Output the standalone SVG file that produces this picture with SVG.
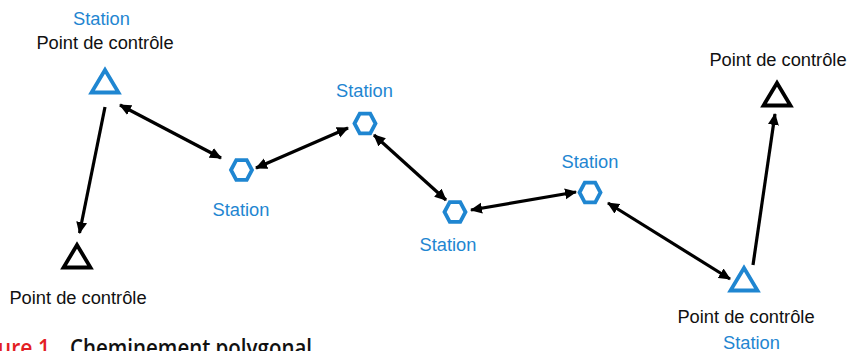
<svg xmlns="http://www.w3.org/2000/svg" width="851" height="351" viewBox="0 0 851 351">
  <defs>
    <marker id="head" viewBox="0 0 12 12" refX="11" refY="6" markerWidth="12" markerHeight="12" markerUnits="userSpaceOnUse" orient="auto-start-reverse">
      <path d="M0,0.5 L12,6 L0,11.5 Z" fill="#000"/>
    </marker>
    <polygon id="tri" points="0,-12 -13.5,10.5 13.5,10.5"/>
    <polygon id="hex" points="-10.5,0 -5.25,-9.8 5.25,-9.8 10.5,0 5.25,9.8 -5.25,9.8"/>
  </defs>
  <style>
    text { font-family: "Liberation Sans", Arial, sans-serif; font-size: 18.3px; text-anchor: middle; }
    .blue { fill: #1f86d1; }
    .black { fill: #111; }
    .sym-blue { fill: none; stroke: #1f86d1; stroke-width: 3.8; stroke-linejoin: miter; }
    .sym-black { fill: none; stroke: #000; stroke-width: 3.8; stroke-linejoin: miter; }
    .link { stroke: #000; stroke-width: 3.2; fill: none; }
    .cap { font-family: "Open Sans", "Liberation Sans", sans-serif; font-weight: 600; font-size: 24px; text-anchor: start; }
  </style>

  <rect width="851" height="351" fill="#fff"/>

  <!-- Connectors -->
  <g id="connectors">
    <line class="link" x1="105" y1="107" x2="79.5" y2="233" marker-end="url(#head)"/>
    <line class="link" x1="120" y1="105" x2="221" y2="158" marker-start="url(#head)" marker-end="url(#head)"/>
    <line class="link" x1="256" y1="168" x2="348" y2="128" marker-start="url(#head)" marker-end="url(#head)"/>
    <line class="link" x1="374" y1="135" x2="446" y2="200" marker-start="url(#head)" marker-end="url(#head)"/>
    <line class="link" x1="471" y1="210" x2="576" y2="192" marker-start="url(#head)" marker-end="url(#head)"/>
    <line class="link" x1="608" y1="203" x2="730" y2="279" marker-start="url(#head)" marker-end="url(#head)"/>
    <line class="link" x1="753" y1="265" x2="775" y2="114" marker-end="url(#head)"/>
  </g>

  <!-- Control point / station, top left -->
  <g id="cp-top-left">
    <text class="blue" x="101.5" y="25">Station</text>
    <text class="black" x="105" y="49">Point de contrôle</text>
    <use href="#tri" class="sym-blue" x="105" y="82"/>
  </g>

  <!-- Control point, bottom left -->
  <g id="cp-bottom-left">
    <use href="#tri" class="sym-black" x="77" y="257"/>
    <text class="black" x="78" y="304">Point de contrôle</text>
  </g>

  <!-- Stations -->
  <g id="station-1">
    <use href="#hex" class="sym-blue" x="241.5" y="170"/>
    <text class="blue" x="241" y="216">Station</text>
  </g>
  <g id="station-2">
    <text class="blue" x="364.5" y="97">Station</text>
    <use href="#hex" class="sym-blue" x="365" y="123.5"/>
  </g>
  <g id="station-3">
    <use href="#hex" class="sym-blue" x="455" y="212"/>
    <text class="blue" x="448" y="251">Station</text>
  </g>
  <g id="station-4">
    <text class="blue" x="590" y="168">Station</text>
    <use href="#hex" class="sym-blue" x="590" y="192.5"/>
  </g>

  <!-- Control point / station, bottom right -->
  <g id="cp-bottom-right">
    <use href="#tri" class="sym-blue" x="744" y="280"/>
    <text class="black" x="746" y="323">Point de contrôle</text>
    <text class="blue" x="751.5" y="348.5">Station</text>
  </g>

  <!-- Control point, top right -->
  <g id="cp-top-right">
    <text class="black" x="778" y="66">Point de contrôle</text>
    <use href="#tri" class="sym-black" x="777" y="95"/>
  </g>

  <!-- Caption -->
  <g id="caption">
    <text class="cap" x="-31" y="356" fill="#e31e24" textLength="81" lengthAdjust="spacingAndGlyphs">Figure 1</text>
    <text class="cap" x="70" y="356" fill="#111" textLength="242" lengthAdjust="spacingAndGlyphs">Cheminement polygonal</text>
  </g>
</svg>
